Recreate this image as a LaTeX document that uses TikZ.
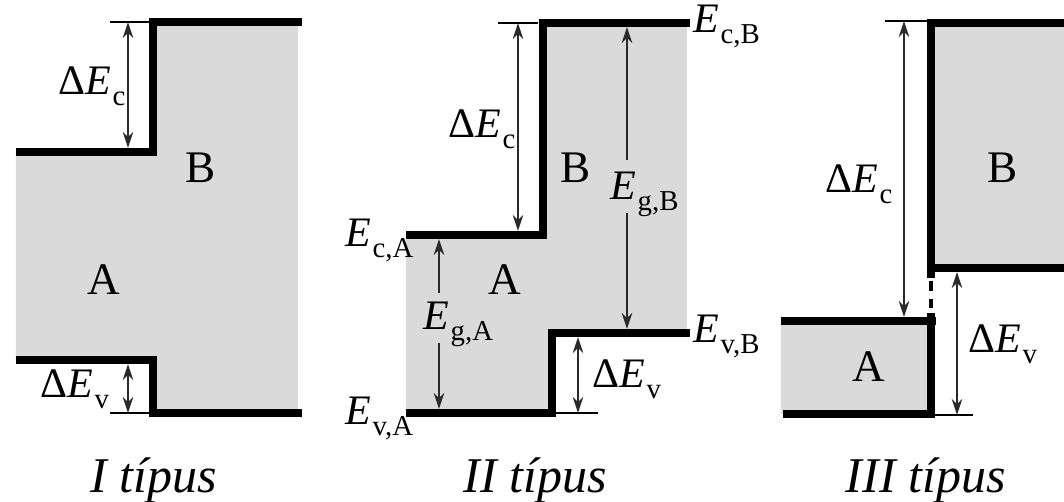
\documentclass[tikz,border=0pt]{standalone}
\usepackage{fontspec}
\setmainfont{Liberation Serif}
\usetikzlibrary{arrows.meta}
\definecolor{bandgrey}{HTML}{DADADA}
\definecolor{arrowgrey}{HTML}{2A2A2A}
\newcommand{\subtxt}[1]{\raisebox{-2.6pt}{\fontsize{7.2}{8}\selectfont #1}}
\newcommand{\En}[1]{\textit{E}\kern0.3pt\subtxt{#1}}
\newcommand{\dEn}[1]{Δ\textit{E}\kern0.3pt\subtxt{#1}}
\tikzset{
  band/.style={line width=2pt, line join=miter, black},
  thinline/.style={line width=0.35pt, black},
  dimarrow/.style={line width=0.55pt, arrowgrey, {Stealth[length=4pt,width=2.6pt]}-{Stealth[length=4pt,width=2.6pt]}},
  uparrow/.style={line width=0.55pt, arrowgrey, {Stealth[length=4pt,width=2.6pt]}-},
  downarrow/.style={line width=0.55pt, arrowgrey, -{Stealth[length=4pt,width=2.6pt]}},
  lab/.style={anchor=base west, inner sep=0pt, font=\fontsize{10.5}{12}\selectfont},
  mat/.style={anchor=base west, inner sep=0pt, font=\fontsize{11.3}{13}\selectfont},
  captext/.style={anchor=base west, inner sep=0pt, font=\fontsize{12.5}{14}\selectfont\itshape},
  dashedband/.style={line width=1.1pt, black, dash pattern=on 2.4pt off 2pt}
}
\begin{document}
\begin{tikzpicture}[x=0.25pt, y=-0.25pt]
\useasboundingbox (0,0) rectangle (1064,502);

% ---------------- Panel I ----------------
\fill[bandgrey] (16,152) -- (153,152) -- (153,22) -- (298,22) -- (298,413) -- (153,413) -- (153,360) -- (16,360) -- cycle;
\draw[band] (16,152) -- (153,152) -- (153,22) -- (302,22);
\draw[band] (16,360) -- (153,360) -- (153,413) -- (302,413);
\draw[thinline] (110,22) -- (150,22);
\draw[thinline] (110,413) -- (150,413);
\coordinate (i1) at (128,22);  \coordinate (i2) at (128,148);
\coordinate (i3) at (128,364); \coordinate (i4) at (128,413);
\draw[dimarrow] (i1) -- (i2);
\draw[dimarrow] (i3) -- (i4);
\node[lab] (iDEc) at (58,95) {\dEn{c}};
\node[lab] (iDEv) at (40,398) {\dEn{v}};
\node[mat] (iB) at (185,183) {B};
\node[mat] (iA) at (87,295) {A};
\node[captext] (icap) at (90,493) {I típus};

% ---------------- Panel II ----------------
\fill[bandgrey] (406,235) -- (543,235) -- (543,23) -- (687,23) -- (687,333) -- (552,333) -- (552,413) -- (406,413) -- cycle;
\draw[band] (406,235) -- (543,235) -- (543,23) -- (690,23);
\draw[band] (406,413) -- (552,413) -- (552,333) -- (690,333);
\draw[thinline] (498,23) -- (538,23);
\draw[thinline] (552,413) -- (598,413);
\coordinate (ii1) at (518,23);  \coordinate (ii2) at (518,231);
\coordinate (ii3) at (627,27);  \coordinate (ii4) at (627,160);
\coordinate (ii5) at (627,213); \coordinate (ii6) at (627,329);
\coordinate (ii7) at (439,239); \coordinate (ii8) at (439,293);
\coordinate (ii9) at (439,343); \coordinate (ii10) at (439,409);
\coordinate (ii11) at (578,337); \coordinate (ii12) at (578,413);
\draw[dimarrow] (ii1) -- (ii2);
\draw[uparrow] (ii3) -- (ii4);
\draw[downarrow] (ii5) -- (ii6);
\draw[uparrow] (ii7) -- (ii8);
\draw[downarrow] (ii9) -- (ii10);
\draw[dimarrow] (ii11) -- (ii12);
\node[lab] (iiDEc) at (448,138) {\dEn{c}};
\node[mat] (iiB) at (560,183) {B};
\node[lab] (iiEgB) at (610,200) {\En{g,B}};
\node[lab] (iiEcB) at (693,33) {\En{c,B}};
\node[lab] (iiEcA) at (345,247) {\En{c,A}};
\node[mat] (iiA) at (488,295) {A};
\node[lab] (iiEgA) at (423,330) {\En{g,A}};
\node[lab] (iiEvB) at (693,343) {\En{v,B}};
\node[lab] (iiDEv) at (592,388) {\dEn{v}};
\node[lab] (iiEvA) at (345,425) {\En{v,A}};
\node[captext] (iicap) at (463,493) {II típus};

% ---------------- Panel III ----------------
\fill[bandgrey] (931,23) rectangle (1064,268);
\fill[bandgrey] (781,321) rectangle (931,414);
\draw[band] (931,278) -- (931,23) -- (1064,23);
\draw[band] (931,268) -- (1064,268);
\draw[band] (781,321) -- (936,321);
\draw[band] (931,313) -- (931,414) -- (783,414);
\draw[dashedband] (931,281) -- (931,310);
\draw[thinline] (885,21) -- (927,21);
\draw[thinline] (931,415) -- (973,415);
\coordinate (iii1) at (904,21);  \coordinate (iii2) at (904,317);
\coordinate (iii3) at (957,272); \coordinate (iii4) at (957,415);
\draw[dimarrow] (iii1) -- (iii2);
\draw[dimarrow] (iii3) -- (iii4);
\node[lab] (iiiDEc) at (825,193) {\dEn{c}};
\node[mat] (iiiB) at (987,183) {B};
\node[lab] (iiiDEv) at (968,353) {\dEn{v}};
\node[mat] (iiiA) at (852,382) {A};
\node[captext] (iiicap) at (845,493) {III típus};
\end{tikzpicture}
\end{document}
